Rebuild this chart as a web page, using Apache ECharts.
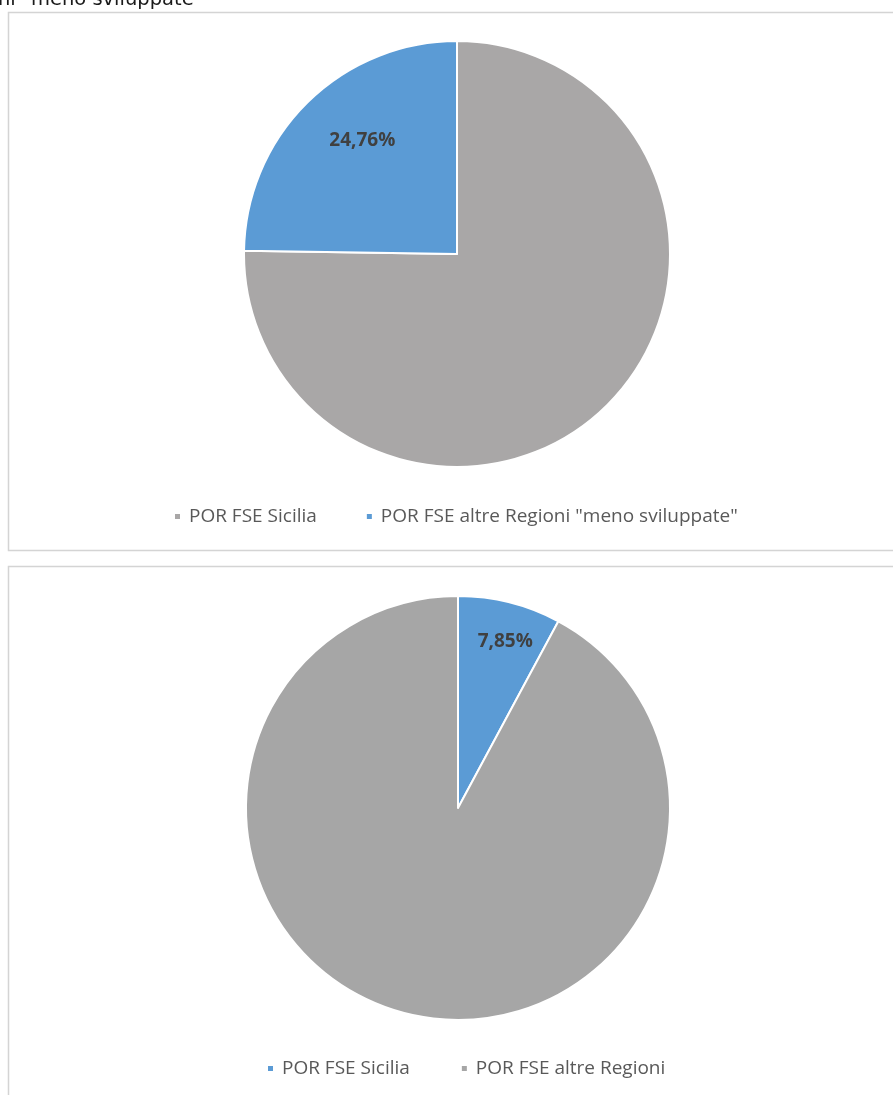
<!DOCTYPE html>
<html><head><meta charset="utf-8">
<script src="https://cdn.jsdelivr.net/npm/echarts@6/dist/echarts.min.js"></script>
<style>html,body{margin:0;padding:0;background:#fff}#c{width:893px;height:1095px}</style>
</head><body><div id="c"></div>
<script>
// Chart 1
const cats1 = ['POR FSE Sicilia', 'POR FSE altre Regioni "meno sviluppate"'];
const vals1 = [75.24, 24.76];
const colors1 = ['#A9A7A7', '#5B9BD5'];
const labelShow1 = [false, true];
// Chart 2
const cats2 = ['POR FSE Sicilia', 'POR FSE altre Regioni'];
const vals2 = [7.85, 92.15];
const colors2 = ['#5B9BD5', '#A6A6A6'];
const labelShow2 = [true, false];
const headText = 'ni "meno sviluppate"';

const fmt = v => v.toFixed(2).replace('.', ',') + '%';
const FONT = '"Open Sans", "DejaVu Sans", sans-serif';

function pieData(cats, vals, colors){
  return cats.map((c,i)=>({name:c, value:vals[i], itemStyle:{color:colors[i]}}));
}
function labelData(cats, vals, show){
  return cats.map((c,i)=>({name:c, value:vals[i], label:{show:show[i]}}));
}
const labelStyle = {position:'inside', color:'#404040', fontFamily:FONT, fontWeight:'bold', fontSize:19,
  formatter: p => fmt(p.value)};
const legendText = {fontFamily:FONT, fontSize:19, color:'#595959', padding:[0,0,0,3]};

const chart = echarts.init(document.getElementById('c'), null, {renderer:'canvas'});
chart.setOption({
  animation:false,
  graphic:[
    {type:'text', left:-2, top:-10, style:{text:headText, font:'19.5px "DejaVu Sans", sans-serif', fill:'#1a1a1a'}},
    {type:'rect', shape:{x:8.5, y:12.5, width:900, height:538}, style:{fill:'none', stroke:'#d4d4d4', lineWidth:1.5}},
    {type:'rect', shape:{x:8.5, y:566.5, width:900, height:560}, style:{fill:'none', stroke:'#d4d4d4', lineWidth:1.5}}
  ],
  legend:[
    {left:168, top:502, itemWidth:7, itemHeight:7, itemGap:48, icon:'rect',
     textStyle:legendText,
     data:cats1.map((c,i)=>({name:c, itemStyle:{color:colors1[i]}})), selectedMode:false},
    {left:261, top:1054, itemWidth:7, itemHeight:7, itemGap:50, icon:'rect',
     textStyle:legendText,
     data:cats2.map((c,i)=>({name:c, itemStyle:{color:colors2[i]}})), selectedMode:false}
  ],
  series:[
    {type:'pie', center:[457,254], radius:[0,213], startAngle:90, clockwise:true,
     itemStyle:{borderColor:'#fff', borderWidth:2}, label:{show:false}, labelLine:{show:false},
     data:pieData(cats1, vals1, colors1), silent:true},
    {type:'pie', center:[457,254], radius:[85,213], startAngle:90, clockwise:true,
     itemStyle:{color:'rgba(0,0,0,0)', borderWidth:0}, label:labelStyle, labelLine:{show:false},
     labelLayout:{dx:12, dy:-5},
     data:labelData(cats1, vals1, labelShow1), silent:true, legendHoverLink:false},
    {type:'pie', center:[458,808], radius:[0,212], startAngle:90, clockwise:true,
     itemStyle:{borderColor:'#fff', borderWidth:2}, label:{show:false}, labelLine:{show:false},
     data:pieData(cats2, vals2, colors2), silent:true},
    {type:'pie', center:[458,808], radius:[136,212], startAngle:90, clockwise:true,
     itemStyle:{color:'rgba(0,0,0,0)', borderWidth:0}, label:labelStyle, labelLine:{show:false},
     labelLayout:{dx:4, dy:5},
     data:labelData(cats2, vals2, labelShow2), silent:true, legendHoverLink:false}
  ]
});
</script></body></html>
